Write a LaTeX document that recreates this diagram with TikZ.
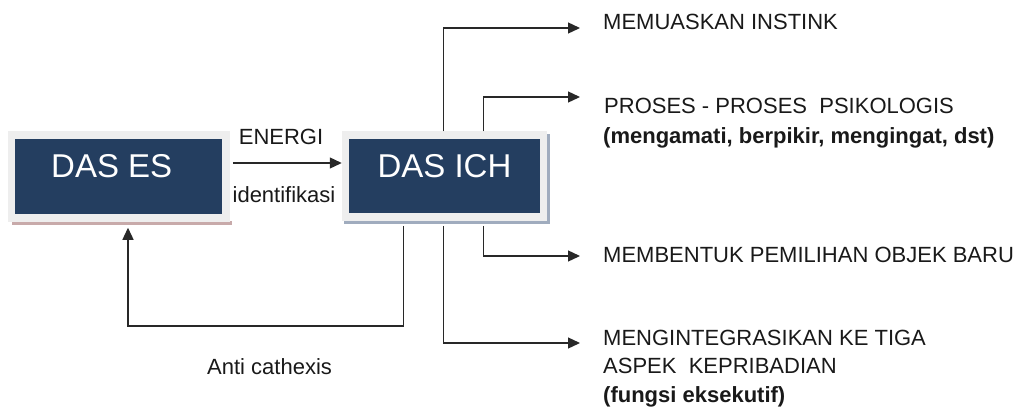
\documentclass[tikz,border=0pt]{standalone}
\usepackage{fontspec}
\setmainfont{Liberation Sans}
\usetikzlibrary{arrows.meta,calc,backgrounds}
\definecolor{boxblue}{RGB}{36,62,96}
\definecolor{frame}{RGB}{238,238,238}
\definecolor{shadowred}{RGB}{200,170,170}
\definecolor{shadowblue}{RGB}{160,172,190}
\definecolor{linecol}{RGB}{40,40,40}
\begin{document}
\begin{tikzpicture}[x=1pt,y=-1pt,
  egobox/.style={draw=frame,line width=7.5pt,fill=boxblue,text=white,
    font=\fontsize{33}{36}\selectfont,text height=24pt,text depth=22pt,inner sep=0pt},
  conn/.style={draw=linecol,line width=1.3pt,-{Triangle[length=12pt,width=11pt]}},
  lbl/.style={font=\fontsize{22}{29}\selectfont,inner sep=0pt,text=black!90}
]
\useasboundingbox (0,0) rectangle (1018,407);
% boxes
\node[egobox,minimum width=214.5pt,minimum height=83pt] (es) at (118.75,176.5) {DAS ES\kern14pt};
\node[egobox,minimum width=198pt,minimum height=82pt] (ich) at (444.5,176) {DAS ICH};
% shadows
\begin{scope}[on background layer]
\fill[shadowred] ($(es.south west)+(4,-1)$) rectangle ($(es.south east)+(2,3)$);
\fill[shadowblue] ($(ich.north east)+(-1,3)$) rectangle ($(ich.south east)+(3,3)$);
\fill[shadowblue] ($(ich.south west)+(2,-1)$) rectangle ($(ich.south east)+(3,3)$);
\end{scope}
% labels
\node[lbl,anchor=base] (energi) at (281,144) {ENERGI};
\node[lbl,anchor=base] (ident) at (284,202) {identifikasi};
\node[lbl,anchor=base west] (anti) at (207,374) {Anti cathexis};
\node[lbl,anchor=base west] (t1) at (603,29) {MEMUASKAN INSTINK};
\node[lbl,anchor=base west] (t2a) at (604,113) {PROSES - PROSES\ \ PSIKOLOGIS};
\node[lbl,anchor=base west] (t2b) at (603,143) {\bfseries(mengamati, berpikir, mengingat, dst)};
\node[lbl,anchor=base west] (t3) at (603,262) {MEMBENTUK PEMILIHAN OBJEK BARU};
\node[lbl,anchor=base west] (t4a) at (603,345) {MENGINTEGRASIKAN KE TIGA};
\node[lbl,anchor=base west] (t4b) at (603,373) {ASPEK\ \ KEPRIBADIAN};
\node[lbl,anchor=base west] (t4c) at (603,402) {\bfseries(fungsi eksekutif)};
% arrow end coordinates
\coordinate (e1) at (580,28);
\coordinate (e2) at (580,97);
\coordinate (e3) at (580,256);
\coordinate (e4) at (580,343);
% connectors
\draw[conn,shorten <=3pt] ($(es.east)+(0,-13.5)$) -- ($(ich.west)+(0,-13)$);
\draw[conn] ($(ich.north west)+(102,0)$) |- (e1);
\draw[conn] ($(ich.north west)+(142,0)$) |- (e2);
\draw[conn] ($(ich.south west)+(142,5)$) |- (e3);
\draw[conn] ($(ich.south west)+(102,5)$) |- (e4);
\draw[conn,shorten >=6pt] ($(ich.south west)+(62,5)$) |- (128,326) -- (es.south -| 128,0);
\end{tikzpicture}
\end{document}
